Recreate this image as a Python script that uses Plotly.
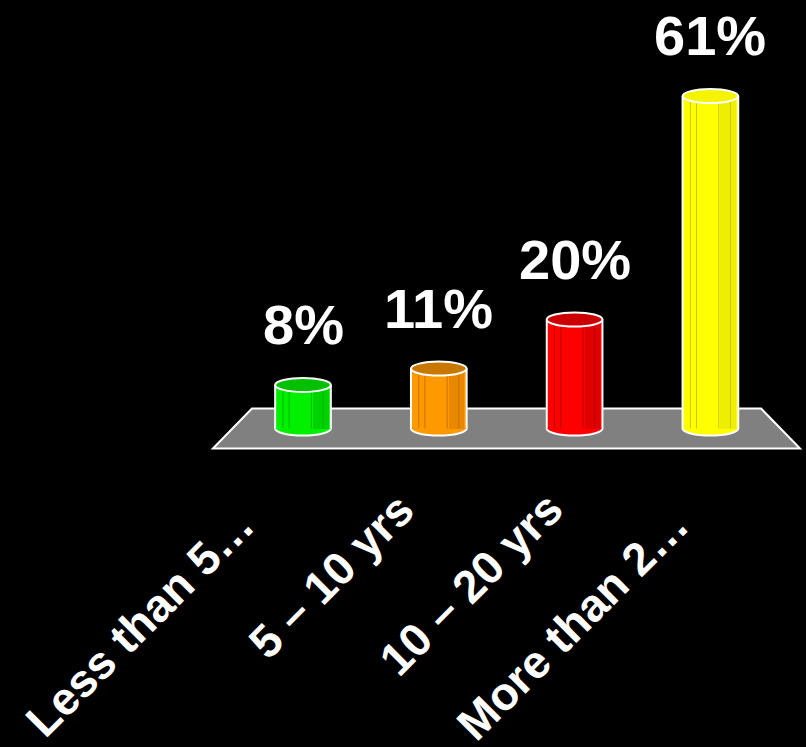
import plotly.graph_objects as go

# ---- data ----
categories = ["Less than 5…", "5 – 10 yrs", "10 – 20 yrs", "More than 2…"]
values = [8, 11, 20, 61]
value_labels = ["8%", "11%", "20%", "61%"]

# ---- styles ----
body_colors = ["#00F000", "#FF9900", "#FF0000", "#FFFF00"]
shade_colors = ["#00D200", "#E88800", "#E00000", "#EEEE00"]
line_colors = ["#00B800", "#C87400", "#B80000", "#C8C800"]
top_colors = ["#00C000", "#C87800", "#CC0000", "#F4F400"]
label_offsets = [(-164, -194), (-108, -147), (-104, -155), (-138, -195)]

W = 806
H = 747
x0_px, x_step = 303.0, 135.8
y0_px, y_step = 428.5, 5.45
x_range = [-x0_px / x_step, (W - x0_px) / x_step]
y_range = [-(H - y0_px) / y_step, y0_px / y_step]

bar_w = 0.41
half_w = bar_w / 2
ell_h = 7 / y_step  # half height of ellipses in data units

n = len(categories)
xs = list(range(n))

fig = go.Figure()

# bar bodies
fig.add_trace(go.Bar(
    x=xs, y=values, base=0, width=bar_w,
    marker=dict(color=body_colors, line=dict(width=0)),
    hoverinfo="skip", showlegend=False,
))
# darker right shading stripe
fig.add_trace(go.Bar(
    x=xs, y=values, base=0, width=bar_w * 0.28, offset=bar_w * 0.18,
    marker=dict(color=shade_colors, line=dict(width=0)),
    hoverinfo="skip", showlegend=False,
))

shapes = []
# floor
fl_left, fl_right, depth, skew = -0.663, (n - 1) + 0.66, 3.67, 0.287
floor_path = (f"M {fl_left},{-depth} L {fl_left + skew},{depth} "
              f"L {fl_right - skew},{depth} L {fl_right},{-depth} Z")
shapes.append(dict(type="path", path=floor_path, xref="x", yref="y",
                   fillcolor="#808080", line=dict(color="white", width=2),
                   layer="below"))

for i, v in enumerate(values):
    # bottom ellipse (below bars)
    shapes.append(dict(type="circle", xref="x", yref="y",
                       x0=i - half_w, x1=i + half_w, y0=-ell_h, y1=ell_h,
                       fillcolor=body_colors[i],
                       line=dict(color="white", width=2), layer="below"))
    # thin facet lines
    for f in (-0.72, -0.5, 0.3, 0.72):
        shapes.append(dict(type="line", xref="x", yref="y",
                           x0=i + f * half_w, x1=i + f * half_w, y0=0, y1=v,
                           line=dict(color=line_colors[i], width=1),
                           layer="above"))
    # side outlines
    for s in (-1, 1):
        shapes.append(dict(type="line", xref="x", yref="y",
                           x0=i + s * half_w, x1=i + s * half_w, y0=0, y1=v,
                           line=dict(color="white", width=2), layer="above"))
    # top ellipse
    shapes.append(dict(type="circle", xref="x", yref="y",
                       x0=i - half_w, x1=i + half_w, y0=v - ell_h, y1=v + ell_h,
                       fillcolor=top_colors[i],
                       line=dict(color="white", width=2), layer="above"))

annotations = []
for i, (v, t) in enumerate(zip(values, value_labels)):
    annotations.append(dict(
        x=i, y=v, xref="x", yref="y", text=t, showarrow=False,
        xanchor="center", yanchor="bottom", yshift=27,
        font=dict(family="Liberation Sans, Arial, sans-serif", size=56,
                  color="white", weight="bold"),
    ))
for i, c in enumerate(categories):
    dx, dy = label_offsets[i]
    annotations.append(dict(
        x=i, y=0, xref="x", yref="y", text=c, showarrow=False,
        xanchor="center", yanchor="middle", xshift=dx, yshift=dy,
        textangle=-45,
        font=dict(family="Liberation Sans, Arial, sans-serif", size=46,
                  color="white", weight="bold"),
    ))

fig.update_layout(
    width=W, height=H, autosize=False,
    margin=dict(l=0, r=0, t=0, b=0, pad=0),
    paper_bgcolor="black", plot_bgcolor="black",
    barmode="overlay", bargap=0,
    xaxis=dict(range=x_range, visible=False, fixedrange=True),
    yaxis=dict(range=y_range, visible=False, fixedrange=True),
    shapes=shapes, annotations=annotations,
    showlegend=False,
)

fig.write_html("out.html", config={"displayModeBar": False})
